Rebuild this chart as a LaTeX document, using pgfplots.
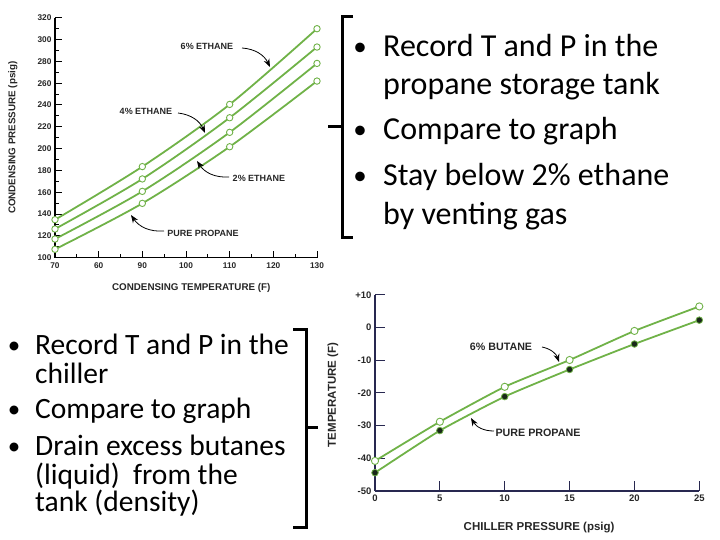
\documentclass[border=0pt]{standalone}
\usepackage{fontspec}
\setmainfont{Carlito}
\newfontfamily\chartfont{Liberation Sans}
\usepackage{pgfplots}
\pgfplotsset{compat=1.18}
\usetikzlibrary{arrows.meta}
\definecolor{lgreen}{RGB}{112,178,72}
\definecolor{navyax}{RGB}{40,40,80}
\definecolor{darkdot}{RGB}{25,40,25}
\pgfplotsset{topline/.style={smooth, tension=0.5, line width=1.8pt, lgreen,
     mark=*, mark size=3.2pt, mark options={fill=white, draw=lgreen, line width=0.9pt}}}
\begin{document}
\begin{tikzpicture}[x=1pt,y=1pt]
\path[use as bounding box] (0,0) rectangle (720,540);

% ---------------- top chart ----------------
\begin{axis}[
  at={(55pt,282.3pt)}, anchor=south west,
  scale only axis, width=262pt, height=240pt,
  xmin=70, xmax=130, ymin=100, ymax=320,
  axis x line=bottom, axis y line=left,
  axis line style={-, line width=1.2pt, black},
  xtick={70,80,...,130}, xticklabels={70,60,90,100,110,120,130},
  ytick={100,120,...,320}, yticklabels={100,120,140,160,180,200,220,240,260,280,300,320},
  minor x tick num=1, minor y tick num=1,
  tick align=inside,
  major tick length=7pt, minor tick length=3.5pt,
  tick style={line width=1pt, black},
  /pgf/number format/assume math mode=true,
  ticklabel style={font=\chartfont\bfseries\fontsize{8.3}{9}\selectfont, text=black!85},
  xticklabel style={yshift=-1pt},
  xlabel={CONDENSING TEMPERATURE (F)},
  ylabel={CONDENSING PRESSURE (psig)},
  label style={font=\chartfont\bfseries\fontsize{9.8}{11}\selectfont, text=black!85},
  xlabel style={at={(axis description cs:0.52,-0.126)}, anchor=center},
  ylabel style={at={(axis description cs:-0.161,0.5)}, anchor=center},
  clip=false,
]
\addplot[topline] coordinates {(70,107.7)(90,149.8)(110,201.7)(130,261.9)};
\addplot[topline] coordinates {(70,117.1)(90,160.8)(110,214.9)(130,278.1)};
\addplot[topline] coordinates {(70,126.3)(90,172.2)(110,228.3)(130,293.1)};
\addplot[topline] coordinates {(70,134.8)(90,183.5)(110,240.5)(130,309.9)};
\end{axis}

% ---------------- bottom chart ----------------
\begin{axis}[
  at={(375pt,49pt)}, anchor=south west,
  scale only axis, width=324.3pt, height=196pt,
  xmin=0, xmax=25, ymin=-50, ymax=10,
  axis x line=bottom, axis y line=left,
  axis line style={-, line width=1.2pt, navyax},
  xtick={0,5,...,25}, xticklabels={0,5,10,15,20,25},
  ytick={-50,-40,...,10}, yticklabels={-50,-40,-30,-20,-10,0,+10},
  tick align=inside,
  major tick length=10pt,
  tick style={line width=1pt, navyax},
  /pgf/number format/assume math mode=true,
  ticklabel style={font=\chartfont\bfseries\fontsize{9.5}{10}\selectfont, text=black!85},
  xlabel={CHILLER PRESSURE (psig)},
  ylabel={TEMPERATURE (F)},
  label style={font=\chartfont\bfseries\fontsize{11.5}{12}\selectfont, text=black!85},
  xlabel style={at={(axis description cs:0.506,-0.184)}, anchor=center},
  ylabel style={at={(axis description cs:-0.13,0.49)}, anchor=center},
  clip=false,
]
\addplot[smooth, tension=0.3, line width=1.8pt, lgreen, mark=*, mark size=3.3pt, mark options={fill=darkdot, draw=lgreen, line width=0.8pt}]
  coordinates {(0,-44.4)(5,-31.5)(10,-21.1)(15,-12.8)(20,-5.0)(25,2.3)};
\addplot[smooth, tension=0.3, line width=1.8pt, lgreen, mark=*, mark size=3.6pt, mark options={fill=white, draw=lgreen, line width=0.9pt}]
  coordinates {(0,-40.8)(5,-28.8)(10,-18.1)(15,-9.9)(20,-1.0)(25,6.5)};
\end{axis}

% ---------------- annotations ----------------
\begin{scope}[font=\chartfont\bfseries\fontsize{9}{10}\selectfont, every node/.style={text=black!85, inner sep=0pt}]
\node at (207,494) {6\% ETHANE};
\node at (146,429) {4\% ETHANE};
\node at (259,362) {2\% ETHANE};
\node at (203,307) {PURE PROPANE};
\end{scope}
\begin{scope}[line width=0.8pt, -{Stealth[length=8pt,width=6pt]}]
\draw (242,492) to[bend left=30] (270,473);
\draw (178,427) to[bend left=30] (205,407);
\draw (229,363) to[bend left=30] (197,379);
\draw (164,309) to[bend left=30] (131,325);
\draw (542,193) to[bend left=30] (559,178);
\draw (494,109) to[bend left=30] (471,122);
\end{scope}
\begin{scope}[font=\chartfont\bfseries\fontsize{10.7}{12}\selectfont, every node/.style={text=black!85, inner sep=0pt}]
\node at (501,193) {6\% BUTANE};
\node at (538,107) {PURE PROPANE};
\end{scope}

% ---------------- brackets ----------------
\draw[line width=3pt] (353,523) -- (342,523) -- (342,302) -- (353,302);
\draw[line width=3pt] (342,413) -- (328,413);
\draw[line width=3pt] (293,210) -- (306,210) -- (306,12) -- (293,12);
\draw[line width=3pt] (306,112) -- (318,112);

% ---------------- bullet text ----------------
\begin{scope}[every node/.style={inner sep=0pt, font=\fontsize{32}{38}\selectfont}]
\node[anchor=base, font=\fontsize{27}{30}\selectfont, yshift=1.5pt] at (360,483) {•};
\node[anchor=base west] at (383,483) {Record T and P in the};
\node[anchor=base west] at (383,445) {propane storage tank};
\node[anchor=base, font=\fontsize{27}{30}\selectfont, yshift=1.5pt] at (360,400) {•};
\node[anchor=base west] at (383,400) {Compare to graph};
\node[anchor=base, font=\fontsize{27}{30}\selectfont, yshift=1.5pt] at (360,354) {•};
\node[anchor=base west] at (383,354) {Stay below 2\% ethane};
\node[anchor=base west] at (383,315) {by venting gas};
\end{scope}
\begin{scope}[every node/.style={inner sep=0pt, font=\fontsize{29.5}{35}\selectfont}]
\node[anchor=base, font=\fontsize{25}{28}\selectfont, yshift=1.5pt] at (14,185) {•};
\node[anchor=base west] at (35,185) {Record T and P in the};
\node[anchor=base west] at (35,156) {chiller};
\node[anchor=base, font=\fontsize{25}{28}\selectfont, yshift=1.5pt] at (14,121) {•};
\node[anchor=base west] at (35,121) {Compare to graph};
\node[anchor=base, font=\fontsize{25}{28}\selectfont, yshift=1.5pt] at (14,84) {•};
\node[anchor=base west] at (35,84) {Drain excess butanes};
\node[anchor=base west] at (35,55) {(liquid)\ \ from the};
\node[anchor=base west] at (35,28) {tank (density)};
\end{scope}
\end{tikzpicture}
\end{document}
